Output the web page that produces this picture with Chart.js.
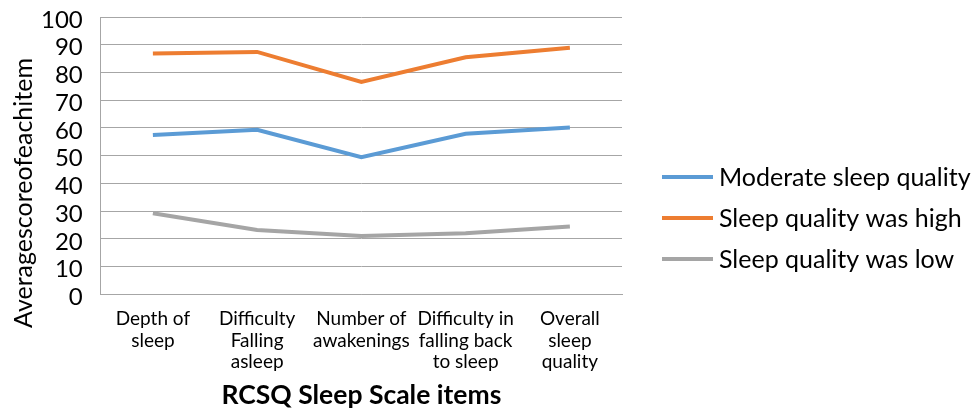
<!DOCTYPE html>
<html>
<head>
<meta charset="utf-8">
<script src="https://cdn.jsdelivr.net/npm/chart.js@4.4.0/dist/chart.umd.min.js"></script>
<style>
html,body{margin:0;padding:0;background:#fff;}
#wrap{width:974px;height:413px;position:relative;}
</style>
</head>
<body>
<div id="wrap"><canvas id="c" width="974" height="413"></canvas></div>
<script>
const categories = [
  ["Depth of", "sleep"],
  ["Difficulty", "Falling", "asleep"],
  ["Number of", "awakenings"],
  ["Difficulty in", "falling back", "to sleep"],
  ["Overall", "sleep", "quality"]
];
const moderate = [57.4, 59.3, 49.4, 57.9, 60.1];
const high = [86.8, 87.4, 76.6, 85.5, 88.9];
const low = [29.2, 23.2, 21.0, 22.0, 24.4];
const seriesNames = ["Moderate sleep quality", "Sleep quality was high", "Sleep quality was low"];
const yTitle = "Averagescoreofeachitem";
const xTitle = "RCSQ Sleep Scale items";

const FONT = "Lato, 'Open Sans', sans-serif";
const gridColor = "#A6A6A6";

const yTitlePlugin = {
  id: 'yTitle',
  afterDraw(chart) {
    const ctx = chart.ctx;
    ctx.save();
    ctx.translate(24, 193);
    ctx.rotate(-Math.PI / 2);
    ctx.font = "25px " + FONT;
    ctx.fillStyle = "#000";
    ctx.textAlign = "center";
    ctx.textBaseline = "middle";
    ctx.fillText(yTitle, 0, 0);
    ctx.restore();
  }
};

const legendPlugin = {
  id: 'sideLegend',
  afterDraw(chart) {
    const ctx = chart.ctx;
    const ds = chart.data.datasets;
    const x0 = 662, lineW = 51, gap = 6, step = 41;
    const yMid = 218;
    ctx.save();
    ctx.font = "25px " + FONT;
    ctx.textBaseline = "middle";
    ctx.textAlign = "left";
    ds.forEach((d, i) => {
      const y = yMid + (i - (ds.length - 1) / 2) * step;
      ctx.strokeStyle = d.borderColor;
      ctx.lineWidth = 4;
      ctx.beginPath();
      ctx.moveTo(x0, y);
      ctx.lineTo(x0 + lineW, y);
      ctx.stroke();
      ctx.fillStyle = "#000";
      ctx.fillText(d.label, x0 + lineW + gap, y + 1);
    });
    ctx.restore();
  }
};

new Chart(document.getElementById('c'), {
  type: 'line',
  data: {
    labels: categories,
    datasets: [
      { label: seriesNames[0], data: moderate, borderColor: '#5B9BD5', backgroundColor: '#5B9BD5' },
      { label: seriesNames[1], data: high, borderColor: '#ED7D31', backgroundColor: '#ED7D31' },
      { label: seriesNames[2], data: low, borderColor: '#A5A5A5', backgroundColor: '#A5A5A5' }
    ].map(d => Object.assign(d, { borderWidth: 4, pointRadius: 0, tension: 0, fill: false }))
  },
  options: {
    responsive: false,
    animation: false,
    layout: { padding: { left: 23, top: 17, right: 352, bottom: 2 } },
    plugins: {
      tooltip: { enabled: false },
      legend: { display: false }
    },
    scales: {
      x: {
        offset: true,
        grid: { display: false, drawTicks: false },
        border: { display: true, color: gridColor, width: 1 },
        ticks: { color: '#000', font: { family: FONT, size: 19, lineHeight: 1.14 }, padding: 14, maxRotation: 0, autoSkip: false },
        title: { display: true, text: xTitle, color: '#000', font: { family: FONT, size: 26.5, weight: 'bold', lineHeight: 1.2 }, padding: { top: -8, bottom: 0 } }
      },
      y: {
        min: 0, max: 100,
        grid: { color: gridColor, lineWidth: 1, drawTicks: false },
        border: { display: true, color: gridColor, width: 1 },
        ticks: { stepSize: 10, color: '#000', font: { family: FONT, size: 24, lineHeight: 1 }, padding: 18, autoSkip: false, labelOffset: 3 },
        afterFit(scale) { scale.paddingTop = 0; scale.paddingBottom = 0; }
      }
    }
  },
  plugins: [yTitlePlugin, legendPlugin]
});
</script>
</body>
</html>
